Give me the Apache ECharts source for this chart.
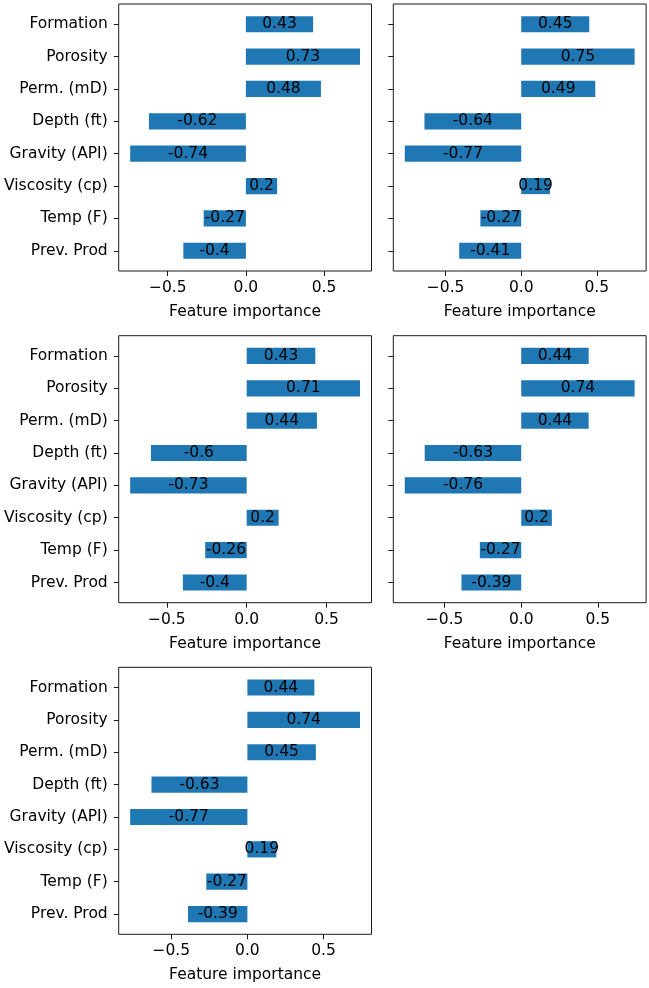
<!DOCTYPE html>
<html>
<head>
<meta charset="utf-8">
<script src="https://cdn.jsdelivr.net/npm/echarts@6/dist/echarts.min.js"></script>
<style>
html,body{margin:0;padding:0;background:#fff;}
#chart{width:649px;height:988px;}
</style>
</head>
<body>
<div id="chart"></div>
<script>
const categories = ['Formation', 'Porosity', 'Perm. (mD)', 'Depth (ft)', 'Gravity (API)', 'Viscosity (cp)', 'Temp (F)', 'Prev. Prod'];
const panel1 = [0.43, 0.73, 0.48, -0.62, -0.74, 0.2, -0.27, -0.4];
const panel2 = [0.45, 0.75, 0.49, -0.64, -0.77, 0.19, -0.27, -0.41];
const panel3 = [0.43, 0.71, 0.44, -0.6, -0.73, 0.2, -0.26, -0.4];
const panel4 = [0.44, 0.74, 0.44, -0.63, -0.76, 0.2, -0.27, -0.39];
const panel5 = [0.44, 0.74, 0.45, -0.63, -0.77, 0.19, -0.27, -0.39];
const xTickValues = [-0.5, 0, 0.5];
const xTitle = 'Feature importance';

const panels = [panel1, panel2, panel3, panel4, panel5];
const frames = [[118.7, 4], [393.3, 4], [118.7, 335.7], [393.3, 335.7], [118.7, 667.3]];
const W = 252.8, H = 267;
const BAR_COLOR = '#1f77b4';
const INK = '#000';
const FONT = 15.5;

const grids = [], xAxes = [], yAxes = [], series = [];
panels.forEach((vals, i) => {
  const [L, T] = frames[i];
  const band = H / 8.25;
  const lo = Math.min(0, ...vals), hi = Math.max(0, ...vals);
  const pad = 0.05 * (hi - lo);
  const xmin = lo - pad, xmax = hi + pad;
  const showYLabels = (i % 2 === 0);
  grids.push({left: L, top: T + 0.125 * band, width: W, height: 8 * band, containLabel: false});
  const gBar = grids.length - 1;
  grids.push({left: L, top: T, width: W, height: H, show: true, borderColor: '#1a1a1a', borderWidth: 1, backgroundColor: 'transparent', containLabel: false});
  const gFrame = grids.length - 1;

  xAxes.push({gridIndex: gBar, type: 'value', min: xmin, max: xmax, show: false});
  yAxes.push({gridIndex: gBar, type: 'category', inverse: true, data: categories, position: 'left',
    axisLine: {show: false, onZero: false},
    axisTick: {show: true, alignWithLabel: true, length: 5, lineStyle: {color: '#1a1a1a', width: 1}},
    axisLabel: {show: showYLabels, color: INK, fontSize: FONT, margin: 11}
  });
  const xaBar = xAxes.length - 1, yaBar = yAxes.length - 1;

  xAxes.push({gridIndex: gFrame, type: 'value', min: xmin, max: xmax, position: 'bottom',
    axisLine: {show: false, onZero: false},
    splitLine: {show: false},
    axisTick: {show: true, length: 5, customValues: xTickValues, lineStyle: {color: '#1a1a1a', width: 1}},
    axisLabel: {customValues: xTickValues, color: INK, fontSize: FONT, margin: 9,
      formatter: v => v.toFixed(1).replace('-', '\u2212')},
    name: xTitle, nameLocation: 'middle', nameGap: 33,
    nameTextStyle: {color: INK, fontSize: FONT}
  });
  yAxes.push({gridIndex: gFrame, type: 'value', min: 0, max: 1, show: false});

  series.push({type: 'bar', xAxisIndex: xaBar, yAxisIndex: yaBar, data: vals,
    barWidth: '50%', itemStyle: {color: BAR_COLOR},
    label: {show: true, position: 'inside', color: INK, fontSize: FONT,
      formatter: p => String(p.value)},
    silent: true, animation: false
  });
});

const chart = echarts.init(document.getElementById('chart'), null, {renderer: 'canvas'});
chart.setOption({
  animation: false,
  textStyle: {fontFamily: 'DejaVu Sans'},
  grid: grids, xAxis: xAxes, yAxis: yAxes, series: series
});
</script>
</body>
</html>
